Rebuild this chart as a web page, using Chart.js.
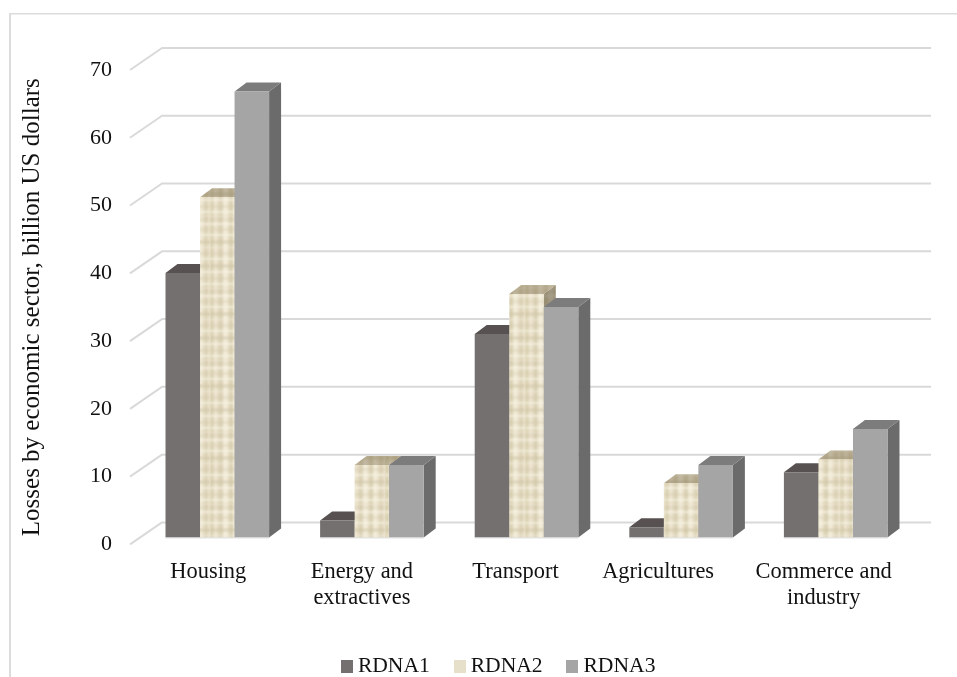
<!DOCTYPE html>
<html>
<head>
<meta charset="utf-8">
<style>html,body{margin:0;padding:0;background:#fff;overflow:hidden}canvas{display:block}</style>
<script src="https://cdn.jsdelivr.net/npm/chart.js@4"></script>
</head>
<body>
<canvas id="c" width="957" height="677"></canvas>
<script>
const categories = ['Housing', ['Energy and', 'extractives'], 'Transport', 'Agricultures', ['Commerce and', 'industry']];
const seriesNames = ['RDNA1', 'RDNA2', 'RDNA3'];
const rdna1 = [39, 2.5, 30, 1.5, 9.6];
const rdna2 = [50.2, 10.7, 35.9, 8, 11.5];
const rdna3 = [65.8, 10.7, 34, 10.7, 16];
const yTicks = [0, 10, 20, 30, 40, 50, 60, 70];
const yTitle = 'Losses by economic sector, billion US dollars';

const FONT = '"Liberation Serif", "Times New Roman", serif';
const TEXT = '#111111';
const GRID = '#d9d9d9';
const FACE = [
  { top: '#575251', side: '#595454' },
  { top: 'rgba(90,75,40,0.32)', side: 'rgba(70,60,35,0.45)' },
  { top: '#7c7c7c', side: '#6b6b6b' }
];
const DEPTH_X = 12, DEPTH_Y = 9;
const labelNudge = [2, 1, 0, -12, -1];

function makeWeave() {
  const t = document.createElement('canvas');
  t.width = 35; t.height = 72;
  const g = t.getContext('2d');
  g.fillStyle = '#e9e0c8';
  g.fillRect(0, 0, 35, 72);
  g.filter = 'blur(0.9px)';
  const vs = [[1, 2, '#cdc3a3'], [5, 1, '#f7f2e2'], [9, 3, '#d2c8a9'], [14, 3, '#f8f4e6'], [20, 2, '#c9bf9f'], [24, 3, '#f7f2e1'], [30, 2, '#cfc5a6']];
  const hs = [[3, 1, '#cfc5a6'], [7, 2, '#f9f5e6'], [13, 1, '#d2c8a9'], [18, 2, '#f8f3e3'], [25, 2, '#cac09f'], [31, 1, '#f9f5e6'], [37, 1, '#cfc5a6'], [42, 2, '#f8f3e3'], [49, 2, '#cbc1a1'], [55, 2, '#f9f5e6'], [62, 1, '#d0c6a7'], [67, 2, '#f8f3e3']];
  g.globalAlpha = 0.7;
  vs.forEach(v => { g.fillStyle = v[2]; g.fillRect(v[0], 0, v[1], 72); });
  hs.forEach(h => { g.fillStyle = h[2]; g.fillRect(0, h[0], 35, h[1]); });
  return t;
}
const ctx = document.getElementById('c').getContext('2d');
const weave = ctx.createPattern(makeWeave(), 'repeat');
const fronts = ['#757070', weave, '#a5a5a5'];
const legendFills = ['#757070', '#e6dfca', '#a5a5a5'];

function swatch(fill) {
  const s = document.createElement('canvas');
  s.width = 12; s.height = 13;
  const g = s.getContext('2d');
  g.fillStyle = fill;
  g.fillRect(0, 0, 12, 13);
  return s;
}
const swatches = legendFills.map(swatch);

const scene = {
  id: 'scene',
  afterLayout(chart) {
    const lg = chart.legend;
    lg.left += 44.5; lg.right += 44.5; lg.top += 10; lg.bottom += 10;
    const y = chart.scales.y;
    if (!y.hasOwnProperty('drawTitle')) {
      const base = Object.getPrototypeOf(y).drawTitle;
      y.drawTitle = function () {
        const c = this.ctx; c.save(); c.translate(0, 7); base.call(this); c.restore();
      };
    }
  },
  beforeDraw(chart) {
    const c = chart.ctx;
    c.save();
    c.fillStyle = '#dcdcdc';
    c.fillRect(9, 13, chart.width - 9, 1.5);
    c.fillRect(9, 13, 2, chart.height - 13);
    c.restore();
    const items = chart.scales.x.getLabelItems(chart.chartArea);
    items.forEach((it, i) => {
      if (!it.nudged) { it.options.translation[0] += labelNudge[i]; it.nudged = true; }
    });
  },
  beforeDatasetsDraw(chart) {
    const c = chart.ctx, a = chart.chartArea, y = chart.scales.y;
    c.save();
    c.strokeStyle = GRID; c.lineWidth = 2; c.lineJoin = 'round';
    y.ticks.forEach(t => {
      const p = y.getPixelForValue(t.value);
      c.beginPath();
      c.moveTo(a.left - 10, p + 7);
      c.lineTo(a.left + 22, p - 15);
      c.lineTo(a.right + 18, p - 15);
      c.stroke();
    });
    chart.getDatasetMeta(0).data.forEach((_, i) => {
      [0, 1, 2].forEach(d => {
        const el = chart.getDatasetMeta(d).data[i];
        const x0 = el.x - el.width / 2, x1 = el.x + el.width / 2;
        const face = (path, shade) => {
          c.beginPath();
          path();
          c.closePath();
          if (d === 1) { c.fillStyle = weave; c.fill(); }
          c.fillStyle = shade;
          c.fill();
        };
        face(() => {
          c.moveTo(x1, el.y); c.lineTo(x1 + DEPTH_X, el.y - DEPTH_Y);
          c.lineTo(x1 + DEPTH_X, el.base - DEPTH_Y); c.lineTo(x1, el.base);
        }, FACE[d].side);
        face(() => {
          c.moveTo(x0, el.y); c.lineTo(x0 + DEPTH_X, el.y - DEPTH_Y);
          c.lineTo(x1 + DEPTH_X, el.y - DEPTH_Y); c.lineTo(x1, el.y);
        }, FACE[d].top);
        el.draw(c, a);
        c.fillStyle = '#d9d9d9';
        c.fillRect(x0, el.base, el.width, 1);
      });
    });
    c.restore();
    return false;
  }
};

new Chart(ctx, {
  type: 'bar',
  data: {
    labels: categories,
    datasets: [rdna1, rdna2, rdna3].map((values, i) => ({
      label: seriesNames[i],
      data: values,
      backgroundColor: fronts[i],
      borderWidth: 0,
      categoryPercentage: 0.67,
      barPercentage: 1
    }))
  },
  options: {
    responsive: false,
    animation: false,
    events: [],
    layout: { padding: { top: 63, right: 44, left: 0, bottom: 0 } },
    plugins: {
      tooltip: { enabled: false },
      legend: {
        position: 'bottom',
        labels: {
          color: TEXT,
          font: { family: FONT, size: 21.6 },
          padding: 29.5,
          usePointStyle: true,
          pointStyleWidth: 0.5,
          generateLabels(chart) {
            return Chart.defaults.plugins.legend.labels.generateLabels(chart)
              .map((it, i) => Object.assign(it, { pointStyle: swatches[i] }));
          }
        }
      }
    },
    scales: {
      x: {
        grid: { display: false, drawTicks: false },
        border: { display: false },
        ticks: {
          color: TEXT,
          font: { family: FONT, size: 22.4, lineHeight: 1.16 },
          padding: 22,
          labelOffset: -11,
          maxRotation: 0,
          autoSkip: false
        },
        afterFit(s) { s.height = 78.5; }
      },
      y: {
        min: 0,
        max: 70,
        afterBuildTicks(s) { s.ticks = yTicks.map(v => ({ value: v })); },
        grid: { display: false, drawTicks: false },
        border: { display: false },
        ticks: {
          color: TEXT,
          font: { family: FONT, size: 22 },
          padding: 28,
          labelOffset: 7
        },
        title: {
          display: true,
          text: yTitle,
          color: TEXT,
          font: { family: FONT, size: 25 },
          padding: { top: 17, bottom: 0 }
        },
        afterFit(s) { s.width = 140; }
      }
    }
  },
  plugins: [scene]
});
</script>
</body>
</html>
